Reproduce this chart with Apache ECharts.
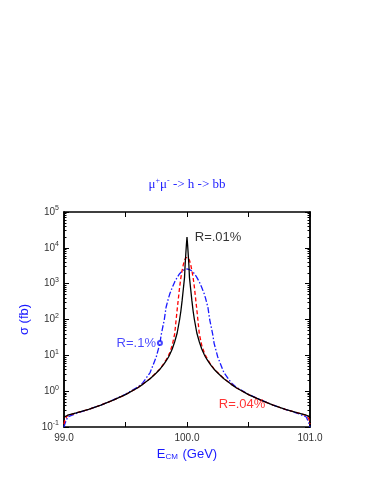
<!DOCTYPE html>
<html>
<head>
<meta charset="utf-8">
<script src="https://cdn.jsdelivr.net/npm/echarts@6/dist/echarts.min.js"></script>
<style>html,body{margin:0;padding:0;background:#fff;}#c{width:374px;height:485px;}</style>
</head>
<body>
<div id="c"></div>
<script>
// Beam energy (GeV)
var energies = [99.0, 99.01, 99.03, 99.1, 99.2, 99.3, 99.4, 99.5, 99.6, 99.64, 99.7, 99.75, 99.78, 99.79, 99.8, 99.815, 99.83, 99.85, 99.86, 99.88,
  99.9, 99.92, 99.94, 99.95, 99.96, 99.97, 99.98, 99.985, 99.99, 99.995,
  100.0,
  100.005, 100.01, 100.015, 100.02, 100.03, 100.04, 100.05, 100.06, 100.08, 100.1,
  100.12, 100.14, 100.15, 100.17, 100.185, 100.2, 100.21, 100.22, 100.25, 100.3,
  100.36, 100.4, 100.5, 100.6, 100.7, 100.8, 100.9, 100.97, 100.99, 101.0];
// sigma (fb), R = .01%
var sigR01 = [0.19, 0.2, 0.213, 0.247, 0.31, 0.41, 0.56, 0.8, 1.25, 1.55, 2.22, 3.2, 4.1, 4.5, 5, 5.9, 7, 9, 10.5, 15,
  24, 42, 100, 170, 330, 700, 1500, 3500, 6500, 12000,
  20000,
  12000, 6500, 3500, 1500, 700, 330, 170, 100, 42, 24,
  15, 10.5, 9, 7, 5.9, 5, 4.5, 4.1, 3.2, 2.22,
  1.55, 1.25, 0.8, 0.56, 0.41, 0.31, 0.247, 0.213, 0.2, 0.18];
// sigma (fb), R = .04%
var sigR04 = [0.12, 0.17, 0.21, 0.247, 0.31, 0.41, 0.56, 0.8, 1.25, 1.57, 2.25, 3.3, 4.2, 4.6, 5.2, 6.2, 7.5, 10, 12, 19,
  40, 188, 800, 1450, 2300, 3400, 4500, 5000, 5300, 5550,
  5600,
  5550, 5300, 5000, 4500, 3400, 2300, 1450, 800, 188, 40,
  19, 12, 10, 7.5, 6.2, 5.2, 4.6, 4.2, 3.3, 2.25,
  1.57, 1.25, 0.8, 0.56, 0.41, 0.31, 0.247, 0.21, 0.17, 0.12];
// sigma (fb), R = .1%
var sigR1 = [0.1, 0.13, 0.19, 0.24, 0.31, 0.41, 0.57, 0.82, 1.3, 1.7, 3.3, 9, 22, 37, 55, 97, 220, 400, 520, 780,
  1120, 1500, 1900, 2080, 2240, 2380, 2480, 2520, 2550, 2565,
  2570,
  2565, 2550, 2520, 2480, 2380, 2240, 2080, 1900, 1500, 1120,
  780, 520, 400, 220, 97, 55, 37, 22, 9, 3.3,
  1.7, 1.3, 0.82, 0.57, 0.41, 0.31, 0.24, 0.19, 0.13, 0.1];
var xTicks = [99.0, 100.0, 101.0];
var yDecades = [0.1, 1, 10, 100, 1000, 10000, 100000];
var labels = [
  {text: 'R=.01%', x: 100.055, y: 20000, color: '#000000', pos: 'right'},
  {text: 'R=.04%', x: 100.25, y: 0.44, color: '#ff0000', pos: 'right'},
  {text: 'R=.1%', x: 99.78, y: 22, color: '#1a1aff', pos: 'left'}
];

function pairs(ys) { return energies.map(function (e, i) { return [e, ys[i]]; }); }
var minorY = [];
for (var d = 0; d < yDecades.length - 1; d++) {
  for (var k = 2; k <= 9; k++) minorY.push(+(yDecades[d] * k).toPrecision(3));
}
var BLUE = '#1a1aff';
var FONT = '"Liberation Sans", Arial, sans-serif';
var yLabelRich = {b: {fontSize: 10, color: '#333', fontFamily: FONT}, s: {fontSize: 7, color: '#333', fontFamily: FONT, padding: [0, 0, 7, 0]}};
function yfmt(v) {
  var e = Math.round(Math.log(v) / Math.LN10);
  return '{b|10}{s|' + e + '}';
}
function baseY(extra) {
  var o = {type: 'log', logBase: 10, min: 0.1, max: 100000, interval: 1,
    axisLine: {show: true, lineStyle: {color: '#000', width: 1.5}},
    splitLine: {show: false}, axisLabel: {show: false}, axisTick: {show: false}};
  for (var k in extra) o[k] = extra[k];
  return o;
}
var chart = echarts.init(document.getElementById('c'));
var series = [
  {name: 'R=.1%', type: 'line', data: pairs(sigR1), showSymbol: false, symbol: 'none',
   lineStyle: {color: BLUE, width: 1.3, type: [6, 2, 1.5, 2]}, z: 3},
  {name: 'R=.04%', type: 'line', data: pairs(sigR04), showSymbol: false, symbol: 'none',
   lineStyle: {color: '#ff0000', width: 1.3, type: [4, 2.5]}, z: 4},
  {name: 'R=.01%', type: 'line', data: pairs(sigR01), showSymbol: false, symbol: 'none',
   lineStyle: {color: '#000000', width: 1.3}, z: 5}
];
labels.forEach(function (l) {
  series.push({type: 'scatter', data: [[l.x, l.y]],
    symbol: l.pos === 'left' ? 'emptyCircle' : 'circle', symbolSize: l.pos === 'left' ? 4 : 0,
    itemStyle: {color: l.color, borderColor: l.color},
    label: {show: true, formatter: l.text, position: l.pos, distance: 1, color: l.color, fontSize: 13, fontFamily: FONT},
    silent: true, z: 6});
});
chart.setOption({
  animation: false,
  backgroundColor: '#ffffff',
  title: {text: '{t|μ}{s|+}{t|μ}{s|-}{t| -> h -> bb}', left: 'center', top: 172,
    textStyle: {fontWeight: 'normal', rich: {
      t: {fontSize: 13, fontWeight: 'normal', color: BLUE, fontFamily: '"Liberation Serif", "Times New Roman", serif'},
      s: {fontSize: 8, fontWeight: 'normal', color: BLUE, fontFamily: '"Liberation Serif", serif', padding: [0, 0, 7, 0]}}}},
  grid: {left: 64, right: 64, top: 212, bottom: 58, containLabel: false},
  xAxis: [
    {type: 'value', min: 99.0, max: 101.0, interval: 0.5, position: 'bottom',
     name: '{e|E}{c|CM}{e| (GeV)}', nameLocation: 'middle', nameGap: 21,
     nameTextStyle: {rich: {e: {fontSize: 13, color: BLUE, fontFamily: FONT}, c: {fontSize: 8, color: BLUE, fontFamily: FONT, padding: [5, 1, 0, 0]}}},
     axisLine: {show: true, lineStyle: {color: '#000', width: 1.5}},
     axisTick: {show: true, inside: true, length: 5, lineStyle: {color: '#000', width: 1}},
     axisLabel: {color: '#333', fontSize: 10, fontFamily: FONT, margin: 6,
       formatter: function (v) { return xTicks.some(function (t) { return Math.abs(t - v) < 1e-9; }) ? v.toFixed(1) : ''; }},
     splitLine: {show: false}},
    {type: 'value', min: 99.0, max: 101.0, interval: 0.5, position: 'top',
     axisLine: {show: true, lineStyle: {color: '#000', width: 1.5}},
     axisTick: {show: true, inside: true, length: 5, lineStyle: {color: '#000', width: 1}},
     axisLabel: {show: false}, splitLine: {show: false}}
  ],
  yAxis: [
    baseY({position: 'left', name: 'σ (fb)', nameLocation: 'middle', nameGap: 30, nameRotate: 90,
      nameTextStyle: {color: BLUE, fontSize: 13, fontFamily: FONT},
      axisTick: {show: true, inside: true, length: 5, lineStyle: {color: '#000', width: 1}},
      axisLabel: {show: true, formatter: yfmt, rich: yLabelRich, margin: 5}}),
    baseY({position: 'left', axisTick: {show: true, inside: true, length: 2.5, customValues: minorY, lineStyle: {color: '#000', width: 1}}}),
    baseY({position: 'right', axisTick: {show: true, inside: true, length: 5, lineStyle: {color: '#000', width: 1}}}),
    baseY({position: 'right', axisTick: {show: true, inside: true, length: 2.5, customValues: minorY, lineStyle: {color: '#000', width: 1}}})
  ],
  series: series
});
</script>
</body>
</html>
